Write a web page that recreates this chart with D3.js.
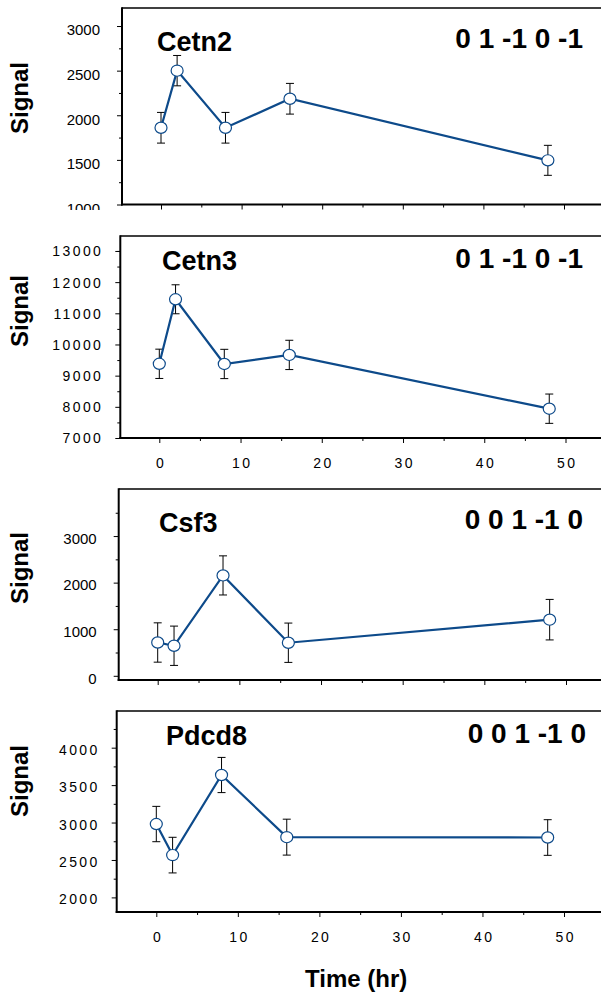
<!DOCTYPE html>
<html>
<head>
<meta charset="utf-8">
<script src="https://cdn.jsdelivr.net/npm/d3@7"></script>
<style>
  html, body { margin: 0; padding: 0; background: #fff; }
  svg { display: block; }
  text { font-family: "Liberation Sans", Arial, Helvetica, sans-serif; fill: #000; }
</style>
</head>
<body>
<svg id="chart" width="601" height="995"></svg>
<script>
// Sampling times (hours)
const times = [0, 2, 8, 16, 48];
const xTicks = [0, 10, 20, 30, 40, 50];

// Gene names and their contrast codes
const genes = ["Cetn2", "Cetn3", "Csf3", "Pdcd8"];
const codes = ["0 1 -1 0 -1", "0 1 -1 0 -1", "0 0 1 -1 0", "0 0 1 -1 0"];

// Mean signal and error (half-width of the error bar) per time point
const cetn2Mean = [1860, 2500, 1860, 2185, 1495];
const cetn2Err  = [172, 170, 172, 172, 168];
const cetn3Mean = [9380, 11450, 9375, 9665, 7940];
const cetn3Err  = [470, 465, 470, 470, 470];
const csf3Mean  = [715, 645, 2155, 710, 1205];
const csf3Err   = [422, 422, 420, 422, 435];
const pdcd8Mean = [2980, 2565, 3635, 2805, 2800];
const pdcd8Err  = [236, 238, 235, 240, 238];

// Y tick values
const cetn2Ticks = [1000, 1500, 2000, 2500, 3000];
const cetn3Ticks = [7000, 8000, 9000, 10000, 11000, 12000, 13000];
const csf3Ticks  = [0, 1000, 2000, 3000];
const pdcd8Ticks = [2000, 2500, 3000, 3500, 4000];
const cetn2Minor = [1250, 1750, 2250, 2750, 3000];
const cetn3Minor = [7500, 8500, 9500, 10500, 11500, 12500, 13000];
const csf3Minor  = [500, 1500, 2500, 3500];
const pdcd8Minor = [2250, 2750, 3250, 3750, 4250];

const series = [
  { mean: cetn2Mean, err: cetn2Err, ticks: cetn2Ticks, minor: cetn2Minor, yDomain: [1000, 3202] },
  { mean: cetn3Mean, err: cetn3Err, ticks: cetn3Ticks, minor: cetn3Minor, yDomain: [7000, 13480] },
  { mean: csf3Mean,  err: csf3Err,  ticks: csf3Ticks,  minor: csf3Minor,  yDomain: [-90, 4010] },
  { mean: pdcd8Mean, err: pdcd8Err, ticks: pdcd8Ticks, minor: pdcd8Minor, yDomain: [1805, 4490] }
];

// Panel geometry
const layout = [
  { clip: [0, 210],   left: 122,   x0: 161,   x50: 564,   top: 8,   bottom: 204.5, tickFont: 15, spacing: 0,   dyLab: 4,   labelY: 98,  titleX: 157, titleY: 51,  codeX: 583, codeY: 48 },
  { clip: [226, 482], left: 120.3, x0: 159.3, x50: 565.5, top: 236, bottom: 438,   tickFont: 14, spacing: 2.4, dyLab: 0.5, labelY: 311, titleX: 162, titleY: 270, codeX: 583, codeY: 268 },
  { clip: [482, 685], left: 118.7, x0: 157.7, x50: 566,   top: 489, bottom: 680,   tickFont: 15, spacing: 0,   dyLab: 2.5, labelY: 568, titleX: 159, titleY: 532, codeX: 583, codeY: 529 },
  { clip: [704, 995], left: 116.7, x0: 156.3, x50: 564,   top: 711, bottom: 912,   tickFont: 14, spacing: 2.4, dyLab: 2,   labelY: 781, titleX: 166, titleY: 745, codeX: 586, codeY: 743 }
];

const lineColor = "#0d4a8a";
const fmt = d3.format("d");
const svg = d3.select("#chart");
const defs = svg.append("defs");

series.forEach((s, i) => {
  const L = layout[i];
  const clipId = "clip" + i;
  defs.append("clipPath").attr("id", clipId)
    .append("rect").attr("x", 0).attr("y", L.clip[0]).attr("width", 601).attr("height", L.clip[1] - L.clip[0]);

  const g = svg.append("g").attr("clip-path", `url(#${clipId})`);

  const x = d3.scaleLinear().domain([0, 50]).range([L.x0, L.x50]);
  const y = d3.scaleLinear().domain(s.yDomain).range([L.bottom, L.top]);
  const xRight = x(56);

  // Frame: top line plus heavier left and bottom axes
  g.append("line").attr("x1", L.left).attr("x2", xRight).attr("y1", L.top).attr("y2", L.top)
    .attr("stroke", "#000").attr("stroke-width", 1.5);

  // Y axis
  const yAxis = g.append("g").attr("transform", `translate(${L.left},0)`)
    .call(d3.axisLeft(y).tickValues(s.ticks).tickFormat(fmt).tickSize(5).tickPadding(L.spacing ? 12 : 17).tickSizeOuter(0));
  yAxis.select(".domain").remove();
  yAxis.selectAll(".tick line").attr("stroke-width", 1);
  yAxis.selectAll(".tick text")
    .attr("font-size", L.tickFont)
    .attr("font-family", "'Liberation Sans', Arial, sans-serif")
    .attr("letter-spacing", L.spacing)
    .attr("dy", (0.32 * L.tickFont + L.dyLab) + "px");
  const yMinor = g.append("g").attr("transform", `translate(${L.left},0)`)
    .call(d3.axisLeft(y).tickValues(s.minor).tickSize(3).tickFormat(""));
  yMinor.select(".domain").remove();

  // X axis
  const xAxis = g.append("g").attr("transform", `translate(0,${L.bottom})`)
    .call(d3.axisBottom(x).tickValues(xTicks).tickFormat(fmt).tickSize(5).tickPadding(L.spacing ? 15 : 13).tickSizeOuter(0));
  xAxis.select(".domain").remove();
  xAxis.selectAll(".tick text")
    .attr("font-size", L.tickFont)
    .attr("font-family", "'Liberation Sans', Arial, sans-serif")
    .attr("letter-spacing", L.spacing)
    .attr("dx", (L.spacing / 2) + "px");
  const xMinor = g.append("g").attr("transform", `translate(0,${L.bottom})`)
    .call(d3.axisBottom(x).tickValues([5, 15, 25, 35, 45]).tickSize(3).tickFormat(""));
  xMinor.select(".domain").remove();

  g.append("line").attr("x1", L.left).attr("x2", L.left).attr("y1", L.top - 0.75).attr("y2", L.bottom + 1)
    .attr("stroke", "#000").attr("stroke-width", 2);
  g.append("line").attr("x1", L.left - 1).attr("x2", xRight).attr("y1", L.bottom).attr("y2", L.bottom)
    .attr("stroke", "#000").attr("stroke-width", 2);

  const pts = times.map((t, j) => ({ t, m: s.mean[j], e: s.err[j] }));

  // Error bars
  const eb = g.append("g").attr("stroke", "#000").attr("stroke-width", 1);
  pts.forEach(p => {
    eb.append("line").attr("x1", x(p.t)).attr("x2", x(p.t)).attr("y1", y(p.m - p.e)).attr("y2", y(p.m + p.e));
    [p.m - p.e, p.m + p.e].forEach(v => {
      eb.append("line").attr("x1", x(p.t) - 4).attr("x2", x(p.t) + 4).attr("y1", y(v)).attr("y2", y(v));
    });
  });

  // Mean line
  g.append("path").datum(pts)
    .attr("fill", "none").attr("stroke", lineColor).attr("stroke-width", 2.2)
    .attr("d", d3.line().x(p => x(p.t)).y(p => y(p.m)));

  // Markers
  g.selectAll("ellipse.pt").data(pts).join("ellipse")
    .attr("class", "pt")
    .attr("cx", p => x(p.t)).attr("cy", p => y(p.m))
    .attr("rx", 6).attr("ry", 5.6)
    .attr("fill", "#fff").attr("stroke", lineColor).attr("stroke-width", 1.2);

  // Gene name and code
  g.append("text").attr("x", L.titleX).attr("y", L.titleY)
    .attr("font-size", 27).attr("font-weight", "bold").text(genes[i]);
  g.append("text").attr("x", L.codeX).attr("y", L.codeY).attr("text-anchor", "end")
    .attr("font-size", 28).attr("font-weight", "bold").text(codes[i]);

  // Y axis title
  g.append("text")
    .attr("transform", `translate(28,${L.labelY}) rotate(-90)`)
    .attr("text-anchor", "middle")
    .attr("font-size", 24).attr("font-weight", "bold").text("Signal");
});

// Shared x axis title
svg.append("text").attr("x", 305).attr("y", 987)
  .attr("font-size", 24).attr("font-weight", "bold").text("Time (hr)");
</script>
</body>
</html>
